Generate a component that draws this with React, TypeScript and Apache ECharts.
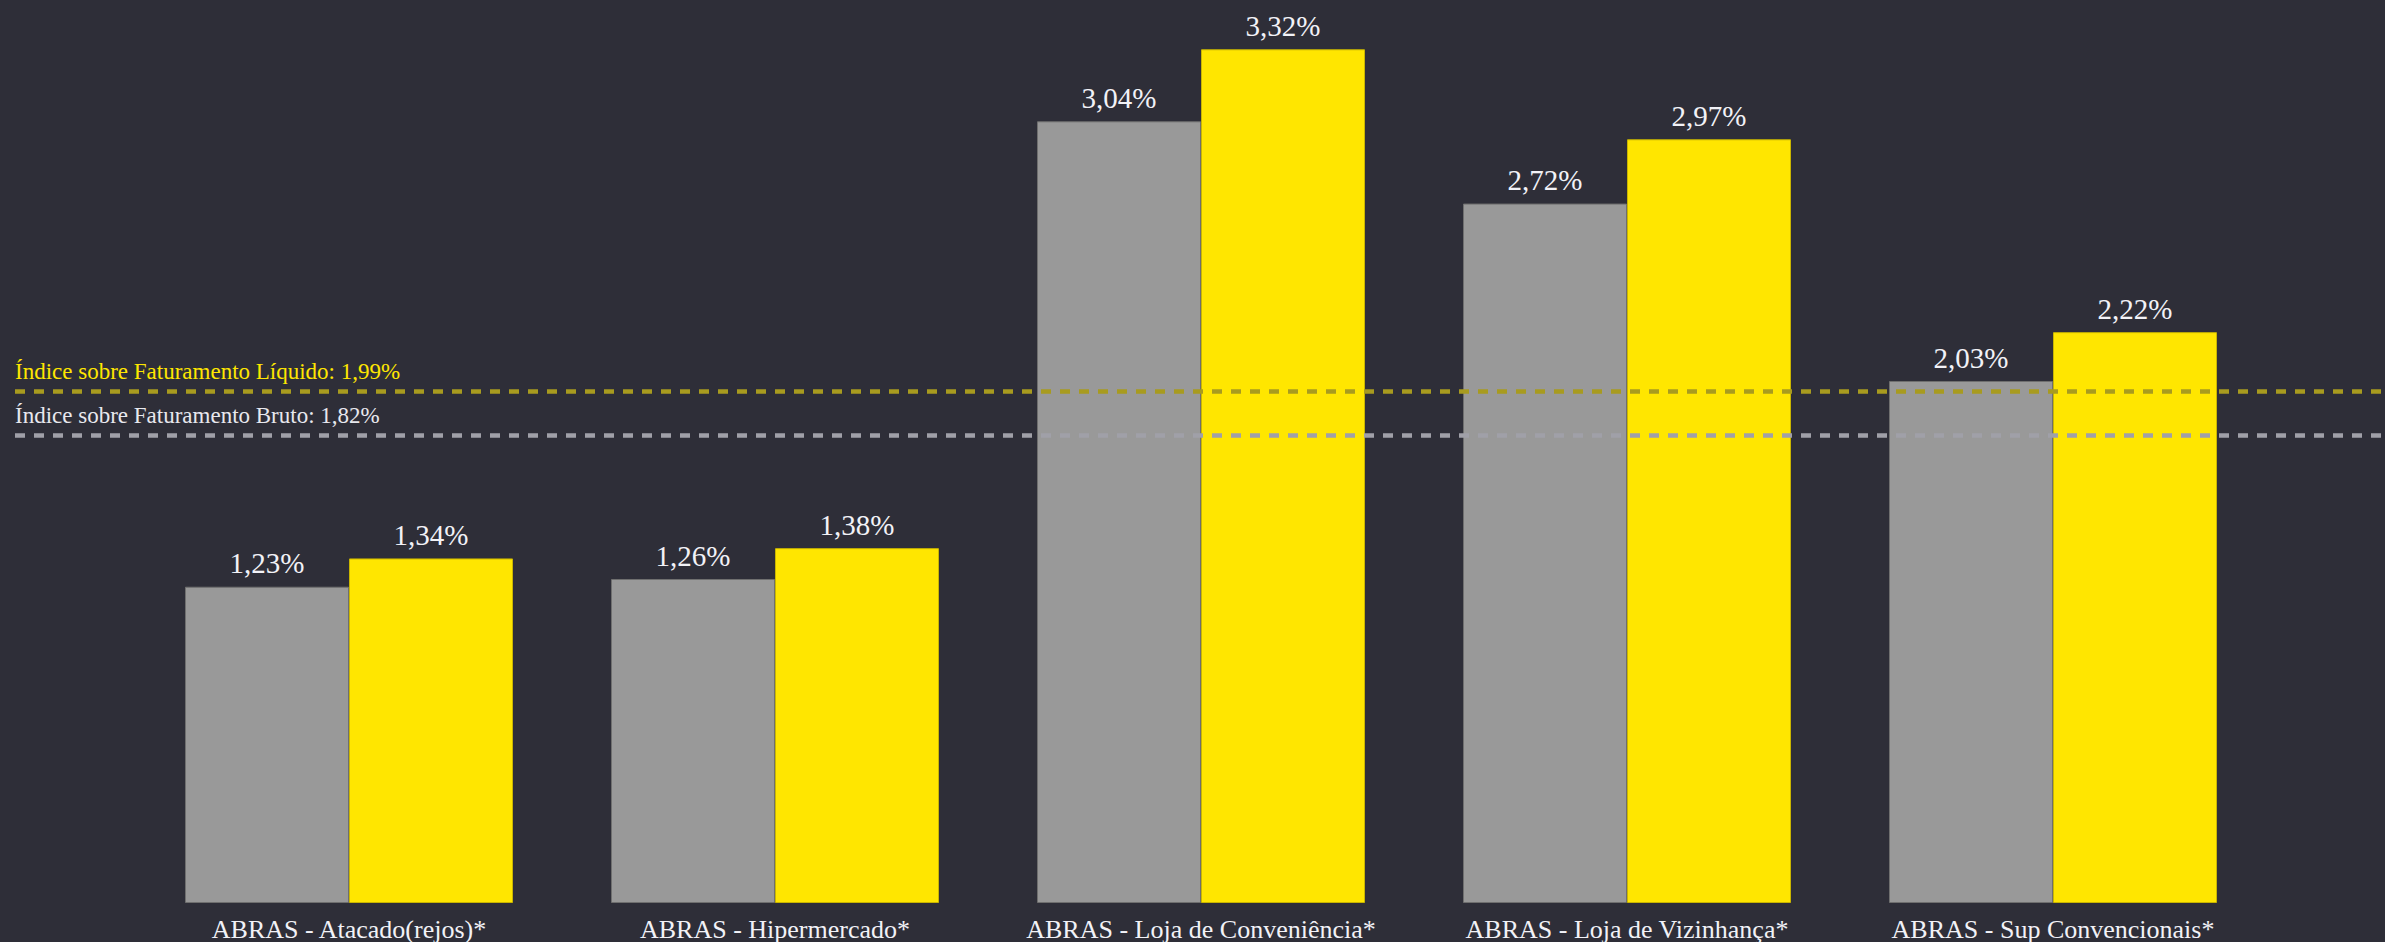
import React, { useEffect, useRef } from "react";
import * as echarts from "echarts";

const categories = [
  "ABRAS - Atacado(rejos)*",
  "ABRAS - Hipermercado*",
  "ABRAS - Loja de Conveniência*",
  "ABRAS - Loja de Vizinhança*",
  "ABRAS - Sup Convencionais*",
];
const brutoValues = [1.23, 1.26, 3.04, 2.72, 2.03];
const liquidoValues = [1.34, 1.38, 3.32, 2.97, 2.22];
const indiceLiquido = 1.99;
const indiceBruto = 1.82;

const FONT = "'Liberation Serif', 'Times New Roman', serif";
const fmt = (v: number) => v.toFixed(2).replace(".", ",") + "%";

export default function App() {
  const ref = useRef<HTMLDivElement>(null);
  useEffect(() => {
    if (!ref.current) return;
    const chart = echarts.init(ref.current, undefined, { renderer: "svg" });
    const barLabel = {
      show: true,
      position: "top",
      distance: 9,
      color: "#f2f2f7",
      fontSize: 29,
      fontFamily: FONT,
      formatter: (p: any) => fmt(p.value),
    };
    chart.setOption({
      animation: false,
      backgroundColor: "#2e2e38",
      grid: { left: 136, right: 119, top: 3, bottom: 39 },
      xAxis: {
        type: "category",
        data: categories,
        axisLine: { show: false },
        axisTick: { show: false },
        axisLabel: {
          interval: 0,
          color: "#f2f2f7",
          fontSize: 26,
          fontFamily: FONT,
          margin: 13,
        },
      },
      yAxis: {
        type: "value",
        min: 0,
        max: 3.5,
        show: false,
        splitLine: { show: false },
      },
      series: [
        {
          type: "bar",
          name: "Bruto",
          data: brutoValues,
          barWidth: 164,
          barGap: "0%",
          itemStyle: { color: "#999999", borderColor: "#6f6f6f", borderWidth: 1 },
          label: barLabel,
          markLine: {
            silent: true,
            symbol: ["none", "none"],
            data: [
              [
                {
                  x: 15,
                  yAxis: indiceLiquido,
                  lineStyle: { color: "#a89b1f", width: 4.5, type: [10, 9] },
                  label: {
                    show: true,
                    position: "insideStartTop",
                    distance: [0, 8],
                    formatter: "Índice sobre Faturamento Líquido: " + fmt(indiceLiquido),
                    color: "#ffe600",
                    fontSize: 23,
                    fontFamily: FONT,
                  },
                },
                { x: 2385, yAxis: indiceLiquido },
              ],
              [
                {
                  x: 15,
                  yAxis: indiceBruto,
                  lineStyle: { color: "#a0a0a8", width: 4.5, type: [10, 9] },
                  label: {
                    show: true,
                    position: "insideStartTop",
                    distance: [0, 8],
                    formatter: "Índice sobre Faturamento Bruto: " + fmt(indiceBruto),
                    color: "#e8e8ee",
                    fontSize: 23,
                    fontFamily: FONT,
                  },
                },
                { x: 2385, yAxis: indiceBruto },
              ],
            ],
          },
        },
        {
          type: "bar",
          name: "Líquido",
          data: liquidoValues,
          barWidth: 164,
          barGap: "0%",
          itemStyle: { color: "#ffe600", borderColor: "#c9b500", borderWidth: 1 },
          label: barLabel,
        },
      ],
    });
    return () => chart.dispose();
  }, []);
  return (
    <div
      ref={ref}
      style={{ position: "fixed", left: 0, top: 0, width: 2385, height: 942 }}
    />
  );
}
